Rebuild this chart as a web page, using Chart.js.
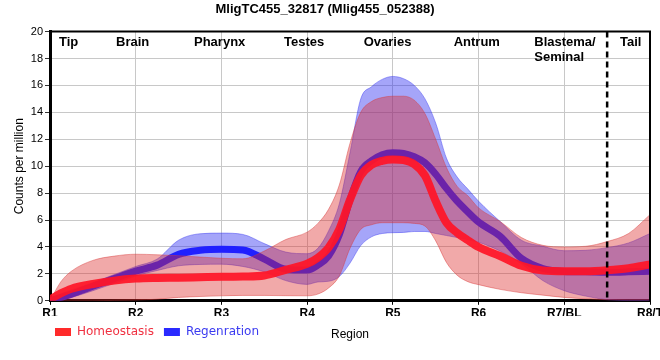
<!DOCTYPE html>
<html>
<head>
<meta charset="utf-8">
<script src="https://cdn.jsdelivr.net/npm/chart.js@4"></script>
<style>
html,body{margin:0;padding:0;background:#fff;}
#wrap{width:660px;height:360px;}
</style>
</head>
<body>
<div id="wrap"><canvas id="c" width="660" height="360"></canvas></div>
<script>
// ---- data ----
const chartTitle = 'MligTC455_32817 (Mlig455_052388)';
const tickLabels = ['R1', 'R2', 'R3', 'R4', 'R5', 'R6', 'R7/BL', 'R8/T'];
const regionNames = ['Tip', 'Brain', 'Pharynx', 'Testes', 'Ovaries', 'Antrum', ['Blastema/', 'Seminal'], 'Tail'];
const regionPos = [0.105, 0.77, 1.68, 2.73, 3.66, 4.71, 5.65, 6.65];
const dividerAt = 6.5;
const seriesNames = ['Homeostasis', 'Regenration'];

const xs = [0, 0.125, 0.25, 0.5, 0.75, 1, 1.25, 1.5, 1.75, 2, 2.25, 2.5, 2.75, 3, 3.125, 3.25, 3.375, 3.5, 3.625, 3.75, 3.875, 4, 4.125, 4.25, 4.375, 4.5, 4.625, 4.75, 4.875, 5, 5.25, 5.5, 5.75, 6, 6.25, 6.5, 6.75, 7];

const homeoMean  = [0.1, 0.55, 0.9, 1.25, 1.5, 1.65, 1.7, 1.72, 1.75, 1.78, 1.8, 1.88, 2.3, 2.75, 3.2, 3.95, 5.3, 7.5, 9.3, 10.1, 10.4, 10.5, 10.45, 10.15, 9.3, 7.4, 5.8, 5.05, 4.5, 4.0, 3.33, 2.6, 2.25, 2.2, 2.2, 2.27, 2.42, 2.7];
const homeoUpper = [0, 1.4, 2.2, 3.0, 3.32, 3.46, 3.42, 3.35, 3.25, 3.16, 3.12, 3.7, 4.55, 5.1, 5.75, 6.8, 8.6, 11.7, 14.0, 14.8, 15.1, 15.2, 15.2, 14.9, 13.9, 12.0, 9.9, 8.5, 7.8, 6.9, 5.9, 4.7, 4.12, 4.0, 4.05, 4.4, 5.0, 6.4];
const homeoLower = [0, 0, 0, 0, 0.03, 0.05, 0.12, 0.25, 0.32, 0.37, 0.4, 0.4, 0.38, 0.37, 0.5, 0.95, 1.85, 3.9, 5.3, 5.65, 5.8, 5.8, 5.8, 5.75, 5.55, 4.45, 2.85, 1.9, 1.42, 1.2, 0.85, 0.6, 0.42, 0.25, 0.15, 0.08, 0.05, 0.05];

const regenMean  = [0, 0.25, 0.5, 1.08, 1.65, 2.2, 2.65, 3.45, 3.75, 3.83, 3.78, 3.1, 2.35, 2.28, 2.65, 3.33, 4.9, 7.5, 9.6, 10.4, 10.85, 11.0, 10.95, 10.7, 10.25, 9.4, 8.35, 7.4, 6.6, 5.85, 4.8, 3.15, 2.4, 2.18, 2.15, 2.12, 2.15, 2.2];
const regenUpper = [0.05, 0.5, 0.8, 1.35, 1.95, 2.55, 3.1, 4.5, 4.98, 5.03, 4.93, 4.25, 3.62, 3.5, 3.9, 5.19, 7.2, 11.0, 15.0, 15.9, 16.45, 16.67, 16.5, 16.0, 15.0, 13.2, 10.6, 9.2, 8.3, 7.4, 5.9, 4.5, 4.05, 3.72, 3.75, 3.95, 4.3, 5.0];
const regenLower = [0, 0.05, 0.25, 0.75, 1.3, 1.85, 2.25, 2.6, 2.7, 2.72, 2.55, 2.15, 1.5, 1.22, 1.4, 1.45, 1.8, 2.8, 4.1, 4.75, 5.0, 5.06, 5.08, 5.15, 5.15, 5.0, 4.85, 4.7, 4.55, 4.35, 3.7, 2.75, 1.5, 0.75, 0.35, 0.08, 0.02, 0.0];

// ---- styles ----
const FONT = '"Liberation Sans", Arial, sans-serif';
const redLine = 'rgba(255,22,40,0.93)';
const redBand = 'rgba(220,40,40,0.4)';
const redEdge = 'rgba(215,60,60,0.45)';
const blueLine = 'rgb(32,32,255)';
const blueBand = 'rgba(40,40,240,0.42)';
const blueEdge = 'rgba(60,60,240,0.45)';
const legendBox = ['#ff2a2a', '#2a2aff'];
const legendText = ['#f03040', '#3a3af0'];

const pts = arr => xs.map((x, i) => ({x: x, y: arr[i]}));

const deco = {
  id: 'deco',
  afterLayout(chart) {
    if (chart.legend) chart.legend.left = chart.chartArea.left - 5;
  },
  afterDatasetsDraw(chart) {
    const {ctx, chartArea: a, scales: {x}} = chart;
    ctx.save();
    const xd = x.getPixelForValue(dividerAt);
    ctx.strokeStyle = '#000';
    ctx.lineWidth = 2.5;
    ctx.setLineDash([6, 4]);
    ctx.beginPath();
    ctx.moveTo(xd, a.top);
    ctx.lineTo(xd, a.bottom);
    ctx.stroke();
    ctx.setLineDash([]);
    ctx.lineWidth = 2;
    ctx.beginPath();
    ctx.moveTo(a.left, a.top);
    ctx.lineTo(a.right, a.top);
    ctx.lineTo(a.right, a.bottom);
    ctx.stroke();
    ctx.font = 'bold 13px ' + FONT;
    ctx.fillStyle = '#000';
    ctx.textAlign = 'left';
    ctx.textBaseline = 'alphabetic';
    regionNames.forEach((n, i) => {
      const lines = Array.isArray(n) ? n : [n];
      lines.forEach((l, j) => ctx.fillText(l, x.getPixelForValue(regionPos[i]), a.top + 14 + j * 15));
    });
    ctx.restore();
  }
};

const lineBase = {pointRadius: 0, pointHoverRadius: 0, cubicInterpolationMode: 'monotone', fill: false};

new Chart(document.getElementById('c'), {
  type: 'line',
  data: {
    datasets: [
      Object.assign({}, lineBase, {label: seriesNames[0], data: pts(homeoMean), borderColor: redLine, borderWidth: 8, order: 1, borderCapStyle: 'round'}),
      Object.assign({}, lineBase, {label: 'hu', data: pts(homeoUpper), borderColor: redEdge, borderWidth: 1, backgroundColor: redBand, fill: {target: 2}, order: 2}),
      Object.assign({}, lineBase, {label: 'hl', data: pts(homeoLower), borderColor: redEdge, borderWidth: 1, order: 3}),
      Object.assign({}, lineBase, {label: seriesNames[1], data: pts(regenMean), borderColor: blueLine, borderWidth: 7, order: 4, borderCapStyle: 'round'}),
      Object.assign({}, lineBase, {label: 'ru', data: pts(regenUpper), borderColor: blueEdge, borderWidth: 1, backgroundColor: blueBand, fill: {target: 5}, order: 5}),
      Object.assign({}, lineBase, {label: 'rl', data: pts(regenLower), borderColor: blueEdge, borderWidth: 1, order: 6})
    ]
  },
  options: {
    responsive: false,
    animation: false,
    devicePixelRatio: 1,
    layout: {padding: {left: 0, right: 10, top: 0, bottom: 12}},
    plugins: {
      tooltip: {enabled: false},
      title: {
        display: true,
        text: chartTitle,
        color: '#000',
        font: {family: FONT, size: 13, weight: 'bold'},
        padding: {top: 2, bottom: 14}
      },
      legend: {
        display: true,
        position: 'bottom',
        align: 'start',
        labels: {
          boxWidth: 16,
          boxHeight: 8,
          padding: 10,
          font: {family: '"DejaVu Sans", sans-serif', size: 12},
          generateLabels: () => seriesNames.map((t, i) => ({
            text: t, fillStyle: legendBox[i], strokeStyle: legendBox[i], lineWidth: 0,
            fontColor: legendText[i], hidden: false, datasetIndex: i * 3
          }))
        }
      }
    },
    scales: {
      x: {
        type: 'linear',
        min: 0,
        max: 7,
        afterBuildTicks: s => { s.ticks = tickLabels.map((_, i) => ({value: i})); },
        afterFit: s => { s.paddingLeft = 0; s.paddingRight = 0; },
        ticks: {
          autoSkip: false,
          maxRotation: 0,
          padding: 2,
          color: '#000',
          font: {family: FONT, size: 12, weight: 'bold'},
          callback: v => tickLabels[v]
        },
        grid: {color: '#c8c8c8', lineWidth: 1, tickLength: 4, tickColor: '#000'},
        border: {color: '#000', width: 3},
        title: {
          display: true,
          text: 'Region',
          color: '#000',
          font: {family: FONT, size: 12},
          padding: {top: 4.4, bottom: -26}
        }
      },
      y: {
        min: 0,
        max: 20,
        afterFit: s => { s.width = 50; },
        ticks: {
          stepSize: 2,
          padding: 2,
          color: '#000',
          font: {family: FONT, size: 11}
        },
        grid: {color: '#c8c8c8', lineWidth: 1, tickLength: 5, tickColor: '#333'},
        border: {color: '#000', width: 3},
        title: {
          display: true,
          text: 'Counts per million',
          color: '#000',
          font: {family: FONT, size: 12},
          padding: {top: 12, bottom: 0}
        }
      }
    }
  },
  plugins: [deco]
});
</script>
</body>
</html>
